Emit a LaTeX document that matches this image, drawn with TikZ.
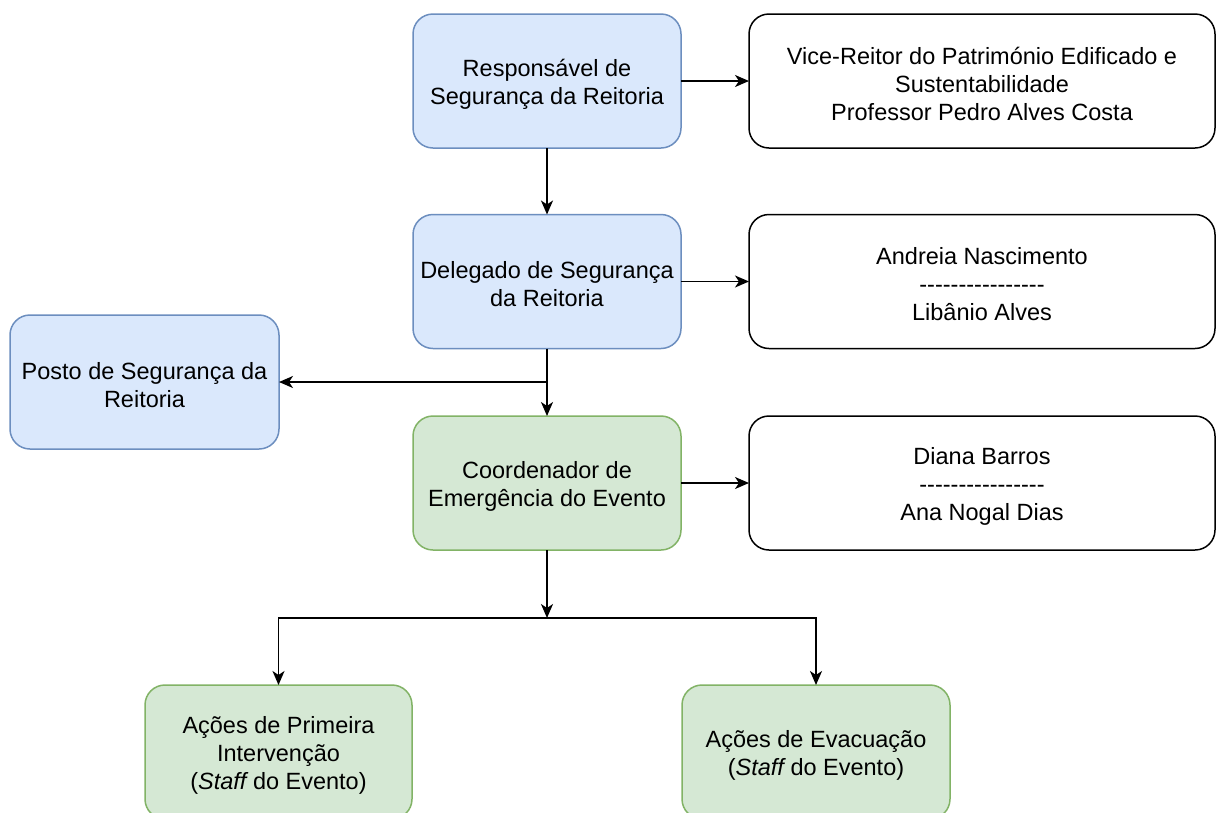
\documentclass[tikz,border=0pt]{standalone}
\usepackage{fontspec}
\setmainfont{Liberation Sans}
\usetikzlibrary{arrows.meta}
\definecolor{bluefill}{HTML}{DAE8FC}
\definecolor{bluedraw}{HTML}{6C8EBF}
\definecolor{greenfill}{HTML}{D5E8D4}
\definecolor{greendraw}{HTML}{82B366}
\newcommand\hyrow{-\kern0pt-\kern0pt-\kern0pt-\kern0pt-\kern0pt-\kern0pt-\kern0pt-\kern0pt-\kern0pt-\kern0pt-\kern0pt-\kern0pt-\kern0pt-\kern0pt-\kern0pt-}
\begin{document}
\begin{tikzpicture}[x=1pt,y=-1pt,
  txt/.style={align=center, font=\fontsize{23.5}{28}\selectfont, inner sep=0pt, yshift=-3pt},
  box/.style={rectangle, rounded corners=20pt, line width=1.5pt, inner sep=0pt, outer sep=0pt,
    minimum height=134pt},
  bluebox/.style={box, draw=bluedraw, fill=bluefill, minimum width=268pt},
  greenbox/.style={box, draw=greendraw, fill=greenfill, minimum width=268pt},
  whitebox/.style={box, draw=black, fill=white, minimum width=466pt},
  arr/.style={line width=1.8pt, -{Stealth[length=14pt,width=12pt,inset=4pt]}}]
\useasboundingbox (0,0) rectangle (1216,812);
\fill[white] (0,0) rectangle (1216,812);

\node[bluebox, label={[txt]center:{Responsável de\\Segurança da Reitoria}}] (resp) at (547,81) {};
\node[whitebox, label={[txt]center:{Vice-Reitor do Património Edificado e\\Sustentabilidade\\Professor Pedro Alves Costa}}] (vice) at (982,81) {};
\node[bluebox, label={[txt]center:{Delegado de Segurança\\da Reitoria}}] (deleg) at (547,281.5) {};
\node[whitebox, label={[txt]center:{Andreia Nascimento\\\hyrow\\Libânio Alves}}] (andreia) at (982,281.5) {};
\node[bluebox, minimum width=269pt, label={[txt]center:{Posto de Segurança da\\Reitoria}}] (posto) at (144.5,382) {};
\node[greenbox, label={[txt]center:{Coordenador de\\Emergência do Evento}}] (coord) at (547,483) {};
\node[whitebox, label={[txt]center:{Diana Barros\\\hyrow\\Ana Nogal Dias}}] (diana) at (982,483) {};
\node[greenbox, minimum width=267pt, label={[txt]center:{Ações de Primeira\\Intervenção\\({\itshape Staff} do Evento)}}] (prim) at (278.5,752) {};
\node[greenbox, label={[txt]center:{Ações de Evacuação\\({\itshape Staff} do Evento)}}] (evac) at (816,752) {};

\coordinate (b) at (547,382);
\coordinate (j) at (547,618);

\draw[arr] (resp) -- (vice);
\draw[arr] (resp) -- (deleg);
\draw[arr] (deleg) -- (andreia);
\draw[arr] (deleg) -- (coord);
\draw[arr] (b) -- (posto.east);
\draw[arr] (coord) -- (diana);
\draw[arr] (coord.south) -- (j);
\draw[arr] (j) -| (prim.north);
\draw[arr] (j) -| (evac.north);
\end{tikzpicture}
\end{document}
